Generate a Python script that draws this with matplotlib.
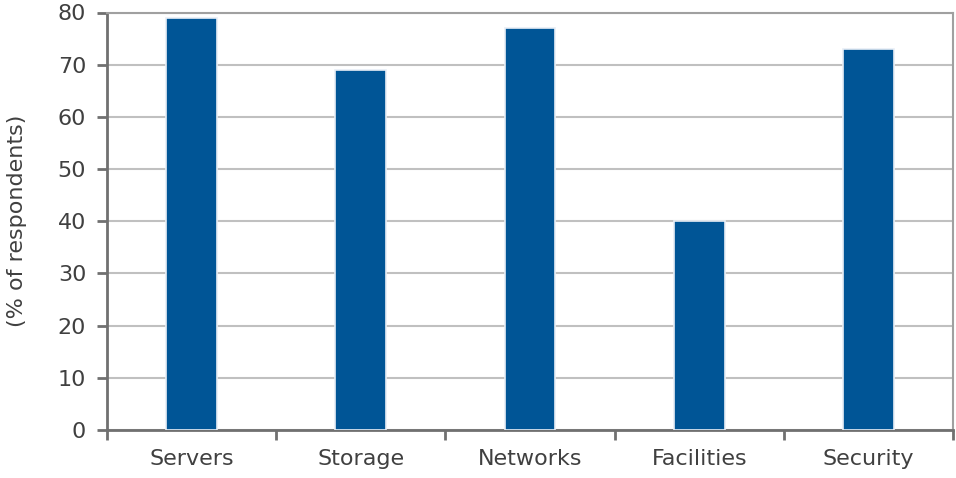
import matplotlib.pyplot as plt
import numpy as np

categories = ['Servers', 'Storage', 'Networks', 'Facilities', 'Security']
values = [79, 69, 77, 40, 73]
yticks = [0, 10, 20, 30, 40, 50, 60, 70, 80]

text_col = '#404040'
bar_col = '#005596'

fig = plt.figure(figsize=(9.56, 4.78), dpi=100)
ax = fig.add_axes([107/956, 48/478, 846/956, 417.5/478])

x = np.arange(len(categories))
ax.bar(x, values, width=0.3, color=bar_col, edgecolor='#e8eef6', linewidth=1.2, zorder=3)

ax.set_xlim(-0.5, len(categories) - 0.5)
ax.set_ylim(0, 80)
ax.set_yticks(yticks)
ax.yaxis.grid(True, color='#c0c0c0', linewidth=1.5, zorder=0)

# category labels centred under bars, tick marks between categories
ax.set_xticks(x)
ax.set_xticklabels(categories)
ax.tick_params(axis='x', which='major', length=0, pad=14, labelsize=16, labelcolor=text_col)
ax.set_xticks(np.arange(-0.5, len(categories)), minor=True)
ax.tick_params(axis='x', which='minor', direction='out', length=7, width=2, color='#707070')
ax.tick_params(axis='y', direction='out', length=7, width=2, color='#707070',
               labelsize=16, labelcolor=text_col, pad=8)

ax.set_ylabel('(% of respondents)', fontsize=16, color=text_col, labelpad=22)

for side in ['top', 'right']:
    ax.spines[side].set_color('#a0a0a0')
    ax.spines[side].set_linewidth(1.5)
for side in ['left', 'bottom']:
    ax.spines[side].set_color('#707070')
    ax.spines[side].set_linewidth(2)

plt.savefig('out.png', dpi=100)
